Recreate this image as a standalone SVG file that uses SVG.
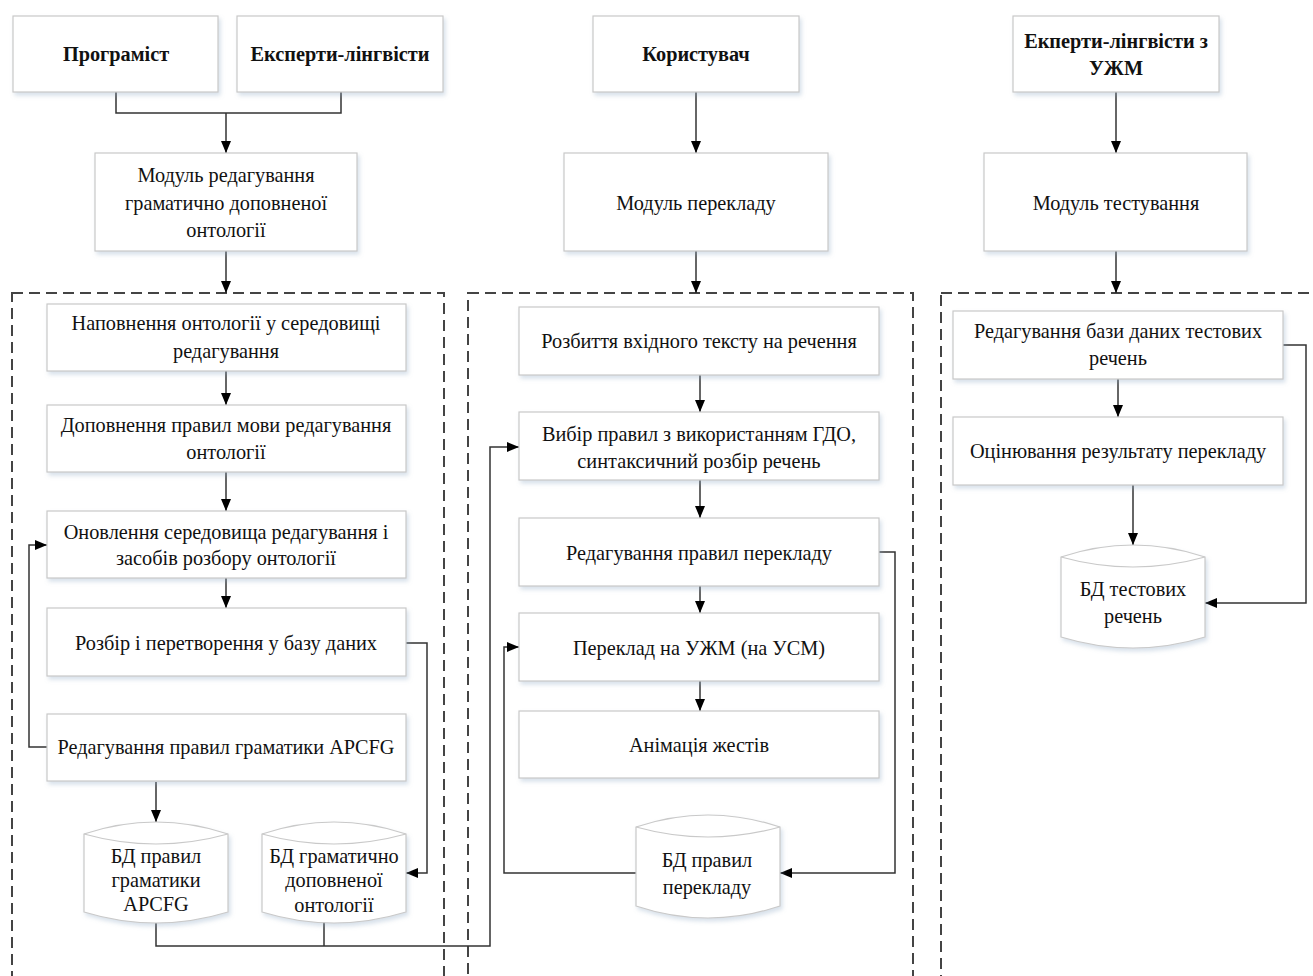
<svg xmlns="http://www.w3.org/2000/svg" width="1313" height="976" viewBox="0 0 1313 976">
<defs>
<filter id="sh" x="-10%" y="-10%" width="130%" height="140%">
<feDropShadow dx="2" dy="3" stdDeviation="2" flood-color="#8fa8c4" flood-opacity="0.35"/>
</filter>
<marker id="ar" viewBox="0 0 12 12" refX="12" refY="6" markerWidth="12" markerHeight="12" markerUnits="userSpaceOnUse" orient="auto">
<path d="M0,1 L12,6 L0,11 Z" fill="#000"/>
</marker>
<style>
.b{fill:#fff;stroke:#c9c9c9;stroke-width:1.2;filter:url(#sh)}
.t{font-family:"Liberation Serif","Times New Roman",serif;font-size:20.3px;fill:#111;text-anchor:middle;dominant-baseline:central}
.h{font-weight:bold}
.c{fill:none;stroke:#333;stroke-width:1.5}
.a{marker-end:url(#ar)}
.d{fill:none;stroke:#444;stroke-width:2;stroke-dasharray:11,6}
</style>
</defs>
<rect width="1313" height="976" fill="#fff"/>

<g id="groups">
<rect class="d" x="12" y="293" width="432" height="720"/>
<rect class="d" x="468" y="293" width="445" height="720"/>
<rect class="d" x="941" y="293" width="400" height="720"/>
</g>

<g id="connectors">
<path class="c" d="M116,92 V113 H341 V92"/>
<path class="c a" d="M226,113 V153"/>
<path class="c a" d="M226,251 V293"/>
<path class="c a" d="M226,371 V405"/>
<path class="c a" d="M226,472 V511"/>
<path class="c a" d="M226,578 V608"/>
<path class="c a" d="M47,747 H29 V545 H47"/>
<path class="c a" d="M406,643 H427 V873 H406"/>
<path class="c a" d="M156,782 V822"/>
<path class="c a" d="M156,922 V946 H490 V447 H519"/>
<path class="c" d="M324,922 V946"/>
<path class="c a" d="M696,92 V153"/>
<path class="c a" d="M696,251 V293"/>
<path class="c a" d="M700,375 V412"/>
<path class="c a" d="M700,480 V518"/>
<path class="c a" d="M700,586 V613"/>
<path class="c a" d="M700,681 V711"/>
<path class="c a" d="M879,552 H895 V873 H780"/>
<path class="c a" d="M636,873 H504 V647 H519"/>
<path class="c a" d="M1116,92 V153"/>
<path class="c a" d="M1116,251 V293"/>
<path class="c a" d="M1118,379 V417"/>
<path class="c a" d="M1133,485 V545"/>
<path class="c a" d="M1283,345 H1306 V603 H1205"/>
</g>

<g id="n-programist"><rect class="b" x="13" y="16" width="205" height="76"/><text class="t h" x="116" y="54">Програміст</text></g>
<g id="n-experts"><rect class="b" x="237" y="16" width="206" height="76"/><text class="t h" x="340" y="54">Експерти-лінгвісти</text></g>
<g id="n-user"><rect class="b" x="593" y="16" width="206" height="76"/><text class="t h" x="696" y="54">Користувач</text></g>
<g id="n-experts-uzhm"><rect class="b" x="1013" y="16" width="206" height="76"/><text class="t h" x="1116" y="41">Екперти-лінгвісти з</text><text class="t h" x="1116" y="68">УЖМ</text></g>

<g id="n-mod-edit"><rect class="b" x="95" y="153" width="262" height="98"/><text class="t" x="226" y="175">Модуль редагування</text><text class="t" x="226" y="203">граматично доповненої</text><text class="t" x="226" y="230">онтології</text></g>
<g id="n-mod-transl"><rect class="b" x="564" y="153" width="264" height="98"/><text class="t" x="696" y="203">Модуль перекладу</text></g>
<g id="n-mod-test"><rect class="b" x="984" y="153" width="263" height="98"/><text class="t" x="1116" y="203">Модуль тестування</text></g>

<g id="n-l1"><rect class="b" x="47" y="304" width="359" height="67"/><text class="t" x="226" y="323">Наповнення онтології у середовищі</text><text class="t" x="226" y="351">редагування</text></g>
<g id="n-l2"><rect class="b" x="47" y="405" width="359" height="67"/><text class="t" x="226" y="425">Доповнення правил мови редагування</text><text class="t" x="226" y="452">онтології</text></g>
<g id="n-l3"><rect class="b" x="47" y="511" width="359" height="67"/><text class="t" x="226" y="532">Оновлення середовища редагування і</text><text class="t" x="226" y="558">засобів розбору онтології</text></g>
<g id="n-l4"><rect class="b" x="47" y="608" width="359" height="68"/><text class="t" x="226" y="643">Розбір і перетворення у базу даних</text></g>
<g id="n-l5"><rect class="b" x="47" y="714" width="359" height="67"/><text class="t" x="226" y="747">Редагування правил граматики APCFG</text></g>

<g id="n-db-apcfg"><path class="b" d="M84,834 Q156,810 228,834 V912 Q156,934 84,912 Z"/><path fill="none" stroke="#c9c9c9" stroke-width="1.2" d="M84,834 Q156,854 228,834"/><text class="t" x="156" y="856">БД правил</text><text class="t" x="156" y="880">граматики</text><text class="t" x="156" y="904">APCFG</text></g>
<g id="n-db-onto"><path class="b" d="M262,834 Q334,810 406,834 V912 Q334,934 262,912 Z"/><path fill="none" stroke="#c9c9c9" stroke-width="1.2" d="M262,834 Q334,854 406,834"/><text class="t" x="334" y="856">БД граматично</text><text class="t" x="334" y="880">доповненої</text><text class="t" x="334" y="905">онтології</text></g>

<g id="n-m1"><rect class="b" x="519" y="307" width="360" height="68"/><text class="t" x="699" y="341">Розбиття вхідного тексту на речення</text></g>
<g id="n-m2"><rect class="b" x="519" y="412" width="360" height="68"/><text class="t" x="699" y="434">Вибір правил з використанням ГДО,</text><text class="t" x="699" y="461">синтаксичний розбір речень</text></g>
<g id="n-m3"><rect class="b" x="519" y="518" width="360" height="68"/><text class="t" x="699" y="553">Редагування правил перекладу</text></g>
<g id="n-m4"><rect class="b" x="519" y="613" width="360" height="68"/><text class="t" x="699" y="648">Переклад на УЖМ (на УСМ)</text></g>
<g id="n-m5"><rect class="b" x="519" y="711" width="360" height="67"/><text class="t" x="699" y="745">Анімація жестів</text></g>
<g id="n-db-transl"><path class="b" d="M636,827 Q708,803 780,827 V906 Q708,930 636,906 Z"/><path fill="none" stroke="#c9c9c9" stroke-width="1.2" d="M636,827 Q708,847 780,827"/><text class="t" x="707" y="860">БД правил</text><text class="t" x="707" y="887">перекладу</text></g>

<g id="n-r1"><rect class="b" x="953" y="311" width="330" height="68"/><text class="t" x="1118" y="331">Редагування бази даних тестових</text><text class="t" x="1118" y="358">речень</text></g>
<g id="n-r2"><rect class="b" x="953" y="417" width="330" height="68"/><text class="t" x="1118" y="451">Оцінювання результату перекладу</text></g>
<g id="n-db-test"><path class="b" d="M1061,557 Q1133,533 1205,557 V637 Q1133,659 1061,637 Z"/><path fill="none" stroke="#c9c9c9" stroke-width="1.2" d="M1061,557 Q1133,577 1205,557"/><text class="t" x="1133" y="589">БД тестових</text><text class="t" x="1133" y="616">речень</text></g>
</svg>
